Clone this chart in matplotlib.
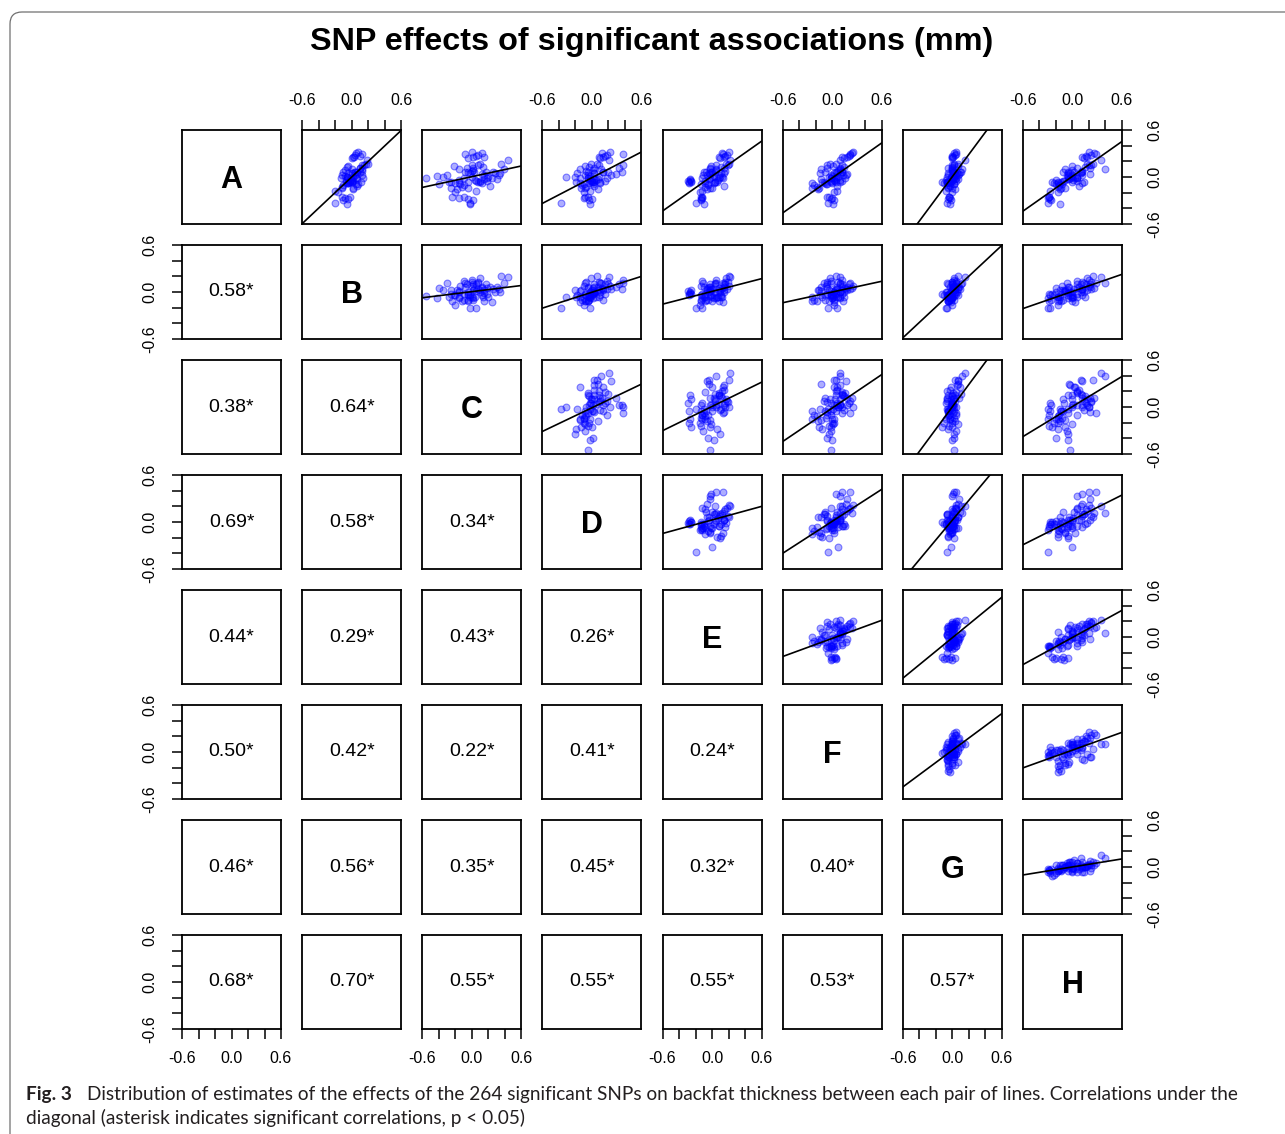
import numpy as np
import matplotlib.pyplot as plt
from matplotlib.patches import FancyBboxPatch
from matplotlib.transforms import IdentityTransform

# SNP effect estimates (mm) for each line, same SNP order in every list.
# groups: main body (40), "A high" (8), "A low" (6), "E low" (7),
# C outliers (4), D extremes (5), "F low" (3)
line_a = [-0.07, -0.18, 0.00, -0.13, -0.06, -0.19, 0.05, -0.09, 0.02, -0.14,
          0.00, -0.09, 0.09, -0.15, -0.01, 0.07, -0.08, 0.03, -0.04, 0.10,
          -0.11, 0.06, -0.01, 0.14, -0.07, 0.05, -0.01, 0.13, -0.02, 0.08,
          -0.05, 0.12, 0.06, 0.17, 0.03, 0.15, 0.07, 0.16, 0.04, 0.22,
          0.24, 0.26, 0.28, 0.30, 0.32, 0.27, 0.25, 0.29,
          -0.25, -0.27, -0.28, -0.29, -0.26, -0.34,
          -0.06, -0.04, -0.07, -0.05, -0.03, -0.08, -0.05,
          -0.01, 0.01, 0.10, 0.05,
          -0.33, 0.00, 0.12, 0.06, 0.15,
          -0.10, -0.14, -0.08]
line_b = [-0.07, -0.20, 0.02, -0.12, 0.00, -0.17, -0.04, 0.05, -0.12, 0.02,
          -0.06, 0.08, -0.08, 0.02, -0.13, 0.06, -0.04, 0.12, -0.07, 0.01,
          0.07, -0.10, 0.05, -0.04, 0.11, 0.00, 0.14, -0.06, 0.06, 0.13,
          -0.02, 0.10, 0.04, 0.18, 0.04, 0.13, 0.10, 0.20, 0.06, 0.19,
          0.00, 0.02, 0.04, 0.05, 0.08, 0.10, 0.03, 0.12,
          -0.12, -0.08, -0.04, -0.10, -0.02, -0.06,
          -0.02, 0.00, -0.03, 0.01, -0.01, -0.04, 0.02,
          -0.05, -0.08, 0.12, 0.00,
          -0.20, -0.06, 0.10, 0.04, 0.15,
          -0.10, -0.12, -0.06]
line_c = [-0.28, 0.05, -0.35, -0.12, 0.10, -0.20, -0.02, -0.40, 0.15, -0.25,
          0.20, -0.14, 0.02, -0.18, 0.25, -0.08, 0.12, -0.30, 0.04, -0.16,
          0.22, -0.05, 0.18, -0.22, 0.08, 0.28, -0.10, 0.14, 0.30, 0.00,
          0.19, -0.06, 0.26, 0.10, 0.33, 0.07, 0.17, 0.35, 0.12, 0.44,
          -0.04, 0.02, 0.08, 0.12, 0.00, 0.05, 0.15, -0.08,
          -0.24, -0.15, -0.05, 0.02, -0.10, -0.02,
          -0.25, -0.15, -0.05, 0.05, 0.15, -0.20, 0.10,
          -0.55, -0.42, 0.39, 0.34,
          -0.02, 0.00, 0.02, 0.03, 0.00,
          -0.10, -0.05, -0.15]
line_d = [-0.19, -0.02, -0.21, -0.07, 0.03, -0.10, -0.18, 0.01, -0.05, -0.13,
          0.09, -0.09, 0.01, 0.07, -0.14, -0.05, 0.10, -0.08, 0.05, -0.14,
          0.02, 0.13, -0.05, -0.08, 0.10, 0.02, 0.18, -0.03, 0.07, -0.07,
          0.16, 0.02, 0.13, -0.01, 0.23, 0.08, 0.20, 0.06, 0.29, 0.21,
          0.10, 0.14, 0.18, 0.12, 0.22, 0.16, 0.08, 0.38,
          -0.05, -0.10, 0.00, -0.03, -0.08, -0.02,
          0.00, -0.02, 0.01, -0.01, 0.02, -0.03, 0.00,
          -0.05, -0.02, 0.11, 0.02,
          -0.38, -0.32, 0.33, 0.36, 0.38,
          -0.12, -0.08, -0.15]
line_e = [0.06, -0.12, 0.10, -0.09, 0.04, -0.15, 0.11, -0.05, 0.08, -0.02,
          0.12, -0.14, 0.05, -0.06, 0.13, -0.10, 0.02, -0.11, 0.07, -0.03,
          0.14, -0.07, 0.09, -0.01, 0.03, 0.15, -0.12, 0.11, -0.04, 0.16,
          -0.08, 0.14, 0.00, 0.17, -0.06, 0.19, 0.04, 0.20, -0.02, 0.22,
          0.10, 0.14, 0.18, 0.12, 0.20, 0.16, 0.08, 0.13,
          -0.13, -0.12, -0.14, -0.13, -0.12, -0.10,
          -0.26, -0.27, -0.28, -0.29, -0.27, -0.28, -0.26,
          -0.03, 0.02, 0.05, -0.04,
          -0.20, 0.00, -0.02, -0.01, 0.05,
          -0.05, 0.00, -0.08]
line_f = [-0.12, 0.06, -0.04, -0.18, 0.10, 0.02, -0.15, -0.06, 0.13, -0.16,
          0.05, -0.07, 0.09, -0.17, 0.02, 0.12, -0.09, -0.02, 0.10, -0.14,
          0.06, -0.09, 0.16, 0.01, -0.10, 0.10, -0.02, 0.14, -0.13, 0.07,
          0.12, -0.06, 0.06, -0.03, 0.17, -0.06, 0.12, 0.04, 0.18, 0.10,
          0.14, 0.18, 0.22, 0.24, 0.25, 0.20, 0.12, 0.22,
          -0.04, 0.00, -0.02, 0.02, -0.06, 0.01,
          -0.01, 0.02, 0.04, -0.02, 0.05, 0.00, 0.03,
          -0.02, 0.00, 0.10, 0.02,
          -0.05, 0.07, 0.10, 0.05, 0.12,
          -0.22, -0.24, -0.25]
line_g = [-0.05, -0.08, 0.02, -0.05, -0.07, -0.01, -0.05, 0.02, -0.05, 0.00,
          -0.06, 0.02, -0.01, 0.03, -0.02, 0.01, -0.07, 0.05, -0.01, 0.00,
          -0.03, 0.02, 0.01, 0.07, -0.06, 0.06, 0.05, 0.00, 0.07, 0.00,
          0.05, -0.05, 0.09, 0.02, 0.07, -0.01, 0.11, 0.07, 0.08, 0.15,
          0.00, 0.01, 0.03, 0.02, 0.04, 0.00, -0.01, 0.05,
          -0.04, -0.03, -0.05, -0.02, -0.04, -0.03,
          -0.12, -0.08, -0.04, 0.00, 0.03, -0.10, -0.02,
          0.02, -0.01, 0.12, 0.03,
          -0.06, -0.02, 0.00, 0.01, 0.02,
          -0.04, -0.05, -0.03]
line_h = [-0.18, -0.27, -0.06, -0.17, 0.00, -0.18, -0.06, -0.20, 0.00, -0.09,
          0.05, -0.13, -0.01, -0.15, 0.03, -0.05, 0.12, -0.07, 0.01, -0.09,
          0.08, -0.12, 0.06, 0.00, 0.14, -0.03, 0.06, 0.15, -0.04, 0.12,
          0.05, 0.21, 0.02, 0.17, 0.11, 0.23, 0.10, 0.25, 0.21, 0.34,
          0.14, 0.18, 0.22, 0.26, 0.20, 0.16, 0.12, 0.28,
          -0.28, -0.30, -0.27, -0.26, -0.29, -0.15,
          -0.25, -0.20, -0.14, -0.10, -0.06, -0.22, -0.12,
          -0.03, -0.05, 0.39, 0.10,
          -0.30, 0.00, 0.05, 0.12, 0.20,
          -0.16, -0.14, -0.18]

line_names = ['A', 'B', 'C', 'D', 'E', 'F', 'G', 'H']

# correlations printed below the diagonal, row by row
corr_labels = ['0.58*',
               '0.38*', '0.64*',
               '0.69*', '0.58*', '0.34*',
               '0.44*', '0.29*', '0.43*', '0.26*',
               '0.50*', '0.42*', '0.22*', '0.41*', '0.24*',
               '0.46*', '0.56*', '0.35*', '0.45*', '0.32*', '0.40*',
               '0.68*', '0.70*', '0.55*', '0.55*', '0.55*', '0.53*', '0.57*']

tick_values = [-0.6, -0.4, -0.2, 0.0, 0.2, 0.4, 0.6]
tick_labels = ['-0.6', '', '', '0.0', '', '', '0.6']

title = 'SNP effects of significant associations (mm)'
caption_bold = 'Fig. 3'
caption_1 = ('Distribution of estimates of the effects of the 264 significant SNPs on '
             'backfat thickness between each pair of lines. Correlations under the')
caption_2 = 'diagonal (asterisk indicates significant correlations, p < 0.05)'

plt.rcParams['font.family'] = ['Liberation Sans', 'DejaVu Sans']

W, H = 1285, 1134
fig = plt.figure(figsize=(W / 100, H / 100), dpi=100)

lines = [line_a, line_b, line_c, line_d, line_e, line_f, line_g, line_h]
n = len(lines)
box_w, box_h = 99, 94
col_x = [182 + 120.14 * j for j in range(n)]
row_y = [130 + 115 * i for i in range(n)]

for i in range(n):
    for j in range(n):
        ax = fig.add_axes([col_x[j] / W, 1 - (row_y[i] + box_h) / H, box_w / W, box_h / H])
        ax.set_xlim(-0.6, 0.6)
        ax.set_ylim(-0.6, 0.6)
        for sp in ax.spines.values():
            sp.set_linewidth(1.3)
        ax.set_xticks(tick_values)
        ax.set_xticklabels(tick_labels)
        ax.set_yticks(tick_values)
        ax.set_yticklabels(tick_labels)
        ax.tick_params(bottom=False, top=False, left=False, right=False,
                       labelbottom=False, labeltop=False, labelleft=False, labelright=False,
                       direction='out', length=7, width=1.1, labelsize=11.5)
        ax.tick_params(axis='x', pad=9)
        ax.tick_params(axis='y', pad=11, labelrotation=90)

        if i == 0 and j % 2 == 1:
            ax.tick_params(top=True, labeltop=True)
        if i == n - 1 and j % 2 == 0:
            ax.tick_params(bottom=True, labelbottom=True)
        if j == 0 and i % 2 == 1:
            ax.tick_params(left=True, labelleft=True)
        if j == n - 1 and i % 2 == 0:
            ax.tick_params(right=True, labelright=True)
        for lab in ax.get_yticklabels():
            lab.set_va('center')

        if i == j:
            ax.text(0, -0.04, line_names[i], ha='center', va='center',
                    fontsize=22, fontweight='bold')
        elif i > j:
            ax.text(0, 0, corr_labels[i * (i - 1) // 2 + j], ha='center', va='center',
                    fontsize=14)
        else:
            x = np.array(lines[j])
            y = np.array(lines[i])
            ax.scatter(x, y, s=24, facecolor=(0, 0, 1, 0.32), edgecolor=(0, 0, 1, 0.45),
                       linewidth=0.8, zorder=2)
            slope, icpt = np.polyfit(x, y, 1)
            xs = np.array([-0.6, 0.6])
            ax.plot(xs, slope * xs + icpt, color='black', lw=1.2, zorder=3)

fig.text(652 / W, 1 - 42 / H, title, ha='center', va='center',
         fontsize=23.3, fontweight='bold')

# rounded frame around the figure
frame = FancyBboxPatch((10, -40), 1340, H - 12 + 40,
                       boxstyle='round,pad=0,rounding_size=12',
                       transform=IdentityTransform(), fill=False,
                       edgecolor='#707070', linewidth=0.9)
fig.add_artist(frame)

# caption
renderer = fig.canvas.get_renderer()
cap_font = ['Lato', 'DejaVu Sans']
t1 = fig.text(87 / W, 1 - 1100 / H, caption_1, fontsize=14, family=cap_font,
              color='#231f20', va='baseline', ha='left')
w1 = t1.get_window_extent(renderer).width
fs = 14 * (1245 - 87) / w1
t1.set_fontsize(fs)
fig.text(26 / W, 1 - 1100 / H, caption_bold, fontsize=fs, family=cap_font,
         fontweight='bold', color='#231f20', va='baseline', ha='left')
fig.text(26 / W, 1 - 1124 / H, caption_2, fontsize=fs, family=cap_font,
         color='#231f20', va='baseline', ha='left')

fig.savefig('out.png', dpi=100)
